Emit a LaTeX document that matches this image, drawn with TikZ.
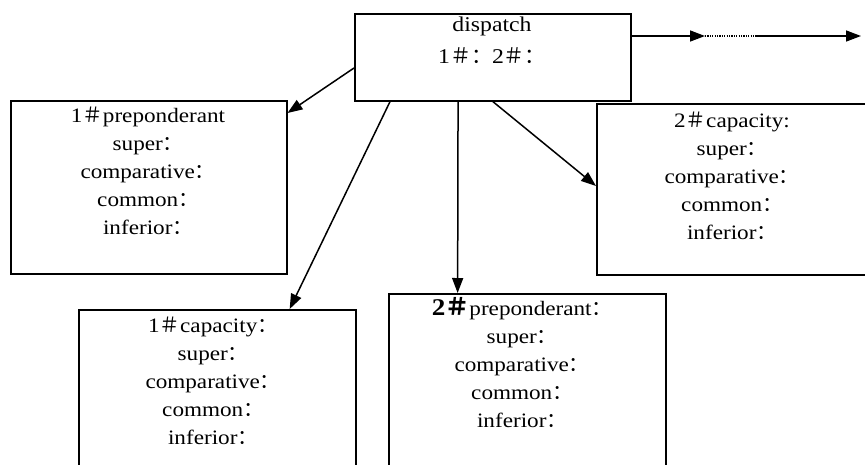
\documentclass[tikz,border=0pt]{standalone}
\usepackage{fontspec}
\setmainfont[FakeStretch=1.13]{Liberation Serif}
\newfontfamily\cjk{Noto Sans CJK SC}
\usetikzlibrary{arrows.meta,calc}
\newcommand{\cc}{{\cjk ：}}
\newcommand{\hh}{{\cjk ＃}}
\begin{document}
\begin{tikzpicture}[x=1pt,y=-1pt,
  box/.style={draw,line width=1.5pt,minimum width=#1,anchor=north west,inner sep=0pt},
  box/.default=276pt,
  txt/.style={anchor=north,align=center,font=\fontsize{20.5}{28}\selectfont,inner sep=0pt},
  arr/.style={line width=1.5pt,-{Triangle[length=15pt,width=11pt]}}]
\useasboundingbox (0,0) rectangle (865,464);
\clip (0,0) rectangle (865,464);
\node[box=276pt,minimum height=87pt] (d) at (354,13) {};
\node[txt,font=\fontsize{21}{32}\selectfont] (dt) at (492,17) {dispatch\\1\hh\cc 2\hh\cc};
\node[box=276pt,minimum height=173pt] (b1) at (10,100) {};
\node[txt] (b1t) at (148,107) {1\hh preponderant\\super\cc\\comparative\cc\\common\cc\\inferior\cc};
\node[box=274pt,minimum height=171pt] (b2) at (596,103) {};
\node[txt] (b2t) at (732,112) {2\hh capacity:\\super\cc\\comparative\cc\\common\cc\\inferior\cc};
\node[box=277pt,minimum height=200pt] (b3) at (78,309) {};
\node[txt] (b3t) at (213,317) {1\hh capacity\cc\\super\cc\\comparative\cc\\common\cc\\inferior\cc};
\node[box=277pt,minimum height=200pt] (b4) at (388,293) {};
\node[txt] (b4t) at (522,297) {{\bfseries\fontsize{24}{28}\selectfont 2{\cjk ＃}}preponderant\cc\\super\cc\\comparative\cc\\common\cc\\inferior\cc};
% connectors
\draw[arr] ([yshift=-55pt]d.north west) -- ([yshift=-13pt]b1.north east);
\draw[arr] ($(d.south west)!0.13!(d.south east)$) -- ($(b3.north west)!0.76!(b3.north east)$);
\draw[arr] ($(d.south west)!0.375!(d.south east)$) -- ($(b4.north west)!0.25!(b4.north east)$);
\draw[arr] ($(d.south west)!0.5!(d.south east)$) -- ([yshift=-83pt]b2.north west);
\coordinate (r0) at ([yshift=-23pt]d.north east);
\coordinate (r1) at (705,36);
\coordinate (r2) at (757,36);
\coordinate (r3) at (861,36);
\draw[arr] (r0) -- (r1);
\draw[line width=1.3pt,dash pattern=on 1.2pt off 1.2pt] (r1) -- (r2);
\draw[arr] (r2) -- (r3);
\end{tikzpicture}
\end{document}
